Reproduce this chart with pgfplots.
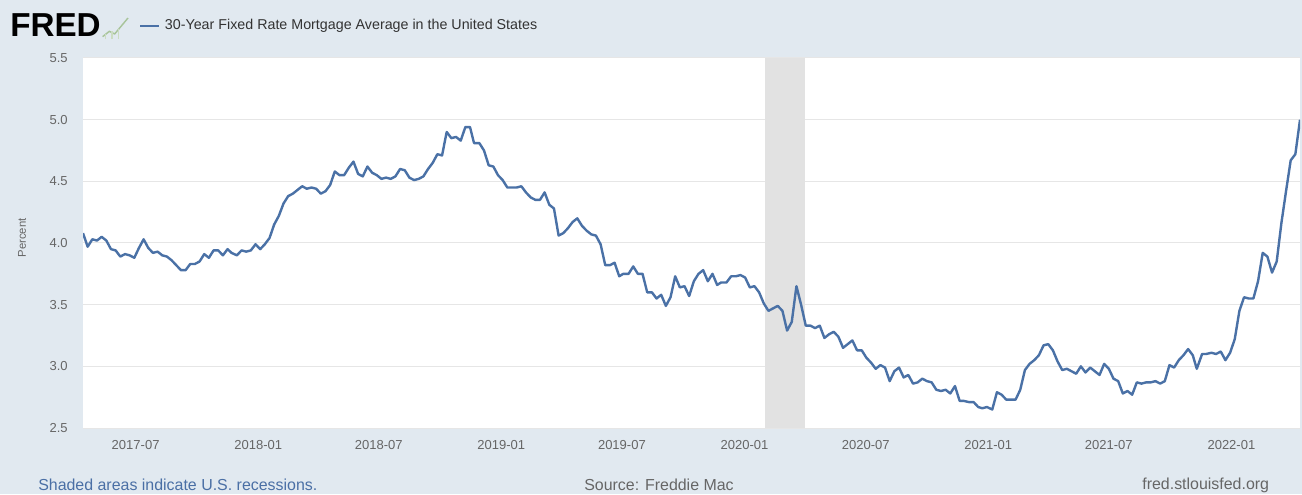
\documentclass[border=0pt]{standalone}
\usepackage{fontspec}
\setmainfont{Liberation Sans}
\usepackage{pgfplots}
\pgfplotsset{compat=1.18}
\usepackage{pgfplotstable}
\usepgfplotslibrary{dateplot}

\definecolor{fredbg}{HTML}{E1E9F0}
\definecolor{fredline}{HTML}{4A71A6}
\definecolor{fredgrid}{HTML}{E6E6E6}
\definecolor{fredrec}{HTML}{E2E2E2}
\definecolor{fredtick}{HTML}{666666}
\definecolor{fredtext}{HTML}{333333}
\definecolor{fredblue}{HTML}{4A6FA5}
\definecolor{fredicon}{HTML}{A8C49A}

% MORTGAGE30US, weekly, percent
\pgfplotstableread{
date rate
2017-04-13 4.08
2017-04-20 3.97
2017-04-27 4.03
2017-05-04 4.02
2017-05-11 4.05
2017-05-18 4.02
2017-05-25 3.95
2017-06-01 3.94
2017-06-08 3.89
2017-06-15 3.91
2017-06-22 3.90
2017-06-29 3.88
2017-07-06 3.96
2017-07-13 4.03
2017-07-20 3.96
2017-07-27 3.92
2017-08-03 3.93
2017-08-10 3.90
2017-08-17 3.89
2017-08-24 3.86
2017-08-31 3.82
2017-09-07 3.78
2017-09-14 3.78
2017-09-21 3.83
2017-09-28 3.83
2017-10-05 3.85
2017-10-12 3.91
2017-10-19 3.88
2017-10-26 3.94
2017-11-02 3.94
2017-11-09 3.90
2017-11-16 3.95
2017-11-22 3.92
2017-11-30 3.90
2017-12-07 3.94
2017-12-14 3.93
2017-12-21 3.94
2017-12-28 3.99
2018-01-04 3.95
2018-01-11 3.99
2018-01-18 4.04
2018-01-25 4.15
2018-02-01 4.22
2018-02-08 4.32
2018-02-15 4.38
2018-02-22 4.40
2018-03-01 4.43
2018-03-08 4.46
2018-03-15 4.44
2018-03-22 4.45
2018-03-29 4.44
2018-04-05 4.40
2018-04-12 4.42
2018-04-19 4.47
2018-04-26 4.58
2018-05-03 4.55
2018-05-10 4.55
2018-05-17 4.61
2018-05-24 4.66
2018-05-31 4.56
2018-06-07 4.54
2018-06-14 4.62
2018-06-21 4.57
2018-06-28 4.55
2018-07-05 4.52
2018-07-12 4.53
2018-07-19 4.52
2018-07-26 4.54
2018-08-02 4.60
2018-08-09 4.59
2018-08-16 4.53
2018-08-23 4.51
2018-08-30 4.52
2018-09-06 4.54
2018-09-13 4.60
2018-09-20 4.65
2018-09-27 4.72
2018-10-04 4.71
2018-10-11 4.90
2018-10-18 4.85
2018-10-25 4.86
2018-11-01 4.83
2018-11-08 4.94
2018-11-15 4.94
2018-11-21 4.81
2018-11-29 4.81
2018-12-06 4.75
2018-12-13 4.63
2018-12-20 4.62
2018-12-27 4.55
2019-01-03 4.51
2019-01-10 4.45
2019-01-17 4.45
2019-01-24 4.45
2019-01-31 4.46
2019-02-07 4.41
2019-02-14 4.37
2019-02-21 4.35
2019-02-28 4.35
2019-03-07 4.41
2019-03-14 4.31
2019-03-21 4.28
2019-03-28 4.06
2019-04-04 4.08
2019-04-11 4.12
2019-04-18 4.17
2019-04-25 4.20
2019-05-02 4.14
2019-05-09 4.10
2019-05-16 4.07
2019-05-23 4.06
2019-05-30 3.99
2019-06-06 3.82
2019-06-13 3.82
2019-06-20 3.84
2019-06-27 3.73
2019-07-03 3.75
2019-07-11 3.75
2019-07-18 3.81
2019-07-25 3.75
2019-08-01 3.75
2019-08-08 3.60
2019-08-15 3.60
2019-08-22 3.55
2019-08-29 3.58
2019-09-05 3.49
2019-09-12 3.56
2019-09-19 3.73
2019-09-26 3.64
2019-10-03 3.65
2019-10-10 3.57
2019-10-17 3.69
2019-10-24 3.75
2019-10-31 3.78
2019-11-07 3.69
2019-11-14 3.75
2019-11-21 3.66
2019-11-27 3.68
2019-12-05 3.68
2019-12-12 3.73
2019-12-19 3.73
2019-12-26 3.74
2020-01-02 3.72
2020-01-09 3.64
2020-01-16 3.65
2020-01-23 3.60
2020-01-30 3.51
2020-02-06 3.45
2020-02-13 3.47
2020-02-20 3.49
2020-02-27 3.45
2020-03-05 3.29
2020-03-12 3.36
2020-03-19 3.65
2020-03-26 3.50
2020-04-02 3.33
2020-04-09 3.33
2020-04-16 3.31
2020-04-23 3.33
2020-04-30 3.23
2020-05-07 3.26
2020-05-14 3.28
2020-05-21 3.24
2020-05-28 3.15
2020-06-04 3.18
2020-06-11 3.21
2020-06-18 3.13
2020-06-25 3.13
2020-07-02 3.07
2020-07-09 3.03
2020-07-16 2.98
2020-07-23 3.01
2020-07-30 2.99
2020-08-06 2.88
2020-08-13 2.96
2020-08-20 2.99
2020-08-27 2.91
2020-09-03 2.93
2020-09-10 2.86
2020-09-17 2.87
2020-09-24 2.90
2020-10-01 2.88
2020-10-08 2.87
2020-10-15 2.81
2020-10-22 2.80
2020-10-29 2.81
2020-11-05 2.78
2020-11-12 2.84
2020-11-19 2.72
2020-11-25 2.72
2020-12-03 2.71
2020-12-10 2.71
2020-12-17 2.67
2020-12-23 2.66
2020-12-30 2.67
2021-01-07 2.65
2021-01-14 2.79
2021-01-21 2.77
2021-01-28 2.73
2021-02-04 2.73
2021-02-11 2.73
2021-02-18 2.81
2021-02-25 2.97
2021-03-04 3.02
2021-03-11 3.05
2021-03-18 3.09
2021-03-25 3.17
2021-04-01 3.18
2021-04-08 3.13
2021-04-15 3.04
2021-04-22 2.97
2021-04-29 2.98
2021-05-06 2.96
2021-05-13 2.94
2021-05-20 3.00
2021-05-27 2.95
2021-06-03 2.99
2021-06-10 2.96
2021-06-17 2.93
2021-06-24 3.02
2021-07-01 2.98
2021-07-08 2.90
2021-07-15 2.88
2021-07-22 2.78
2021-07-29 2.80
2021-08-05 2.77
2021-08-12 2.87
2021-08-19 2.86
2021-08-26 2.87
2021-09-02 2.87
2021-09-09 2.88
2021-09-16 2.86
2021-09-23 2.88
2021-09-30 3.01
2021-10-07 2.99
2021-10-14 3.05
2021-10-21 3.09
2021-10-28 3.14
2021-11-04 3.09
2021-11-10 2.98
2021-11-18 3.10
2021-11-24 3.10
2021-12-02 3.11
2021-12-09 3.10
2021-12-16 3.12
2021-12-23 3.05
2021-12-30 3.11
2022-01-06 3.22
2022-01-13 3.45
2022-01-20 3.56
2022-01-27 3.55
2022-02-03 3.55
2022-02-10 3.69
2022-02-17 3.92
2022-02-24 3.89
2022-03-03 3.76
2022-03-10 3.85
2022-03-17 4.16
2022-03-24 4.42
2022-03-31 4.67
2022-04-07 4.72
2022-04-14 5.00
}\mortgage

\begin{document}
\begin{tikzpicture}[x=1bp,y=1bp]
% page background, 1302x494 px at 0.75bp per px
\path[use as bounding box, fill=fredbg] (0,0) rectangle (976.5,370.5);

% header: logo and legend
\node[anchor=west, inner sep=0, font=\bfseries\fontsize{25}{25}\selectfont] at (7.5,351.5) {FRED};
\draw[fredicon, line width=1.1, line join=round] (77,343) -- (82,347) -- (86,345) -- (91,351) -- (96,357);
\draw[fredicon!60, line width=0.8] (79,341) -- (79,345) (84,341) -- (84,347) (89,341) -- (89,349);
\draw[fredline, line width=1.2] (105,351) -- (119,351);
\node[anchor=west, inner sep=0, text=fredtext, font=\fontsize{10.75}{11}\selectfont] at (123.5,351) {30-Year Fixed Rate Mortgage Average in the United States};

\begin{axis}[
    at={(62.25bp,49.5bp)}, anchor=south west,
    scale only axis,
    width=912.75bp, height=277.5bp,
    date coordinates in=x,
    xmin=2017-04-13, xmax=2022-04-14,
    ymin=2.5, ymax=5.5,
    xtick={2017-07-01,2018-01-01,2018-07-01,2019-01-01,2019-07-01,2020-01-01,2020-07-01,2021-01-01,2021-07-01,2022-01-01},
    xticklabels={2017-07,2018-01,2018-07,2019-01,2019-07,2020-01,2020-07,2021-01,2021-07,2022-01},
    ytick={2.5,3.0,3.5,4.0,4.5,5.0,5.5},
    yticklabels={2.5,3.0,3.5,4.0,4.5,5.0,5.5},
    ymajorgrids,
    grid style={fredgrid, line width=0.75bp},
    axis line style={draw=none},
    major tick length=0pt,
    axis background/.style={fill=white},
    tick label style={text=fredtick, font=\fontsize{9.8}{10}\selectfont},
    xticklabel style={yshift=-6bp},
    yticklabel style={xshift=-8bp},
    clip=true,
  ]
  % recession: 2020-02 to 2020-04
  \addplot[fill=fredrec, draw=none] coordinates {
    (2020-02-01,2.5) (2020-02-01,5.5) (2020-04-01,5.5) (2020-04-01,2.5)
  } -- cycle;
  \addplot[fredline, line width=1.8bp, line join=round, mark=none] table[x=date, y=rate] {\mortgage};
\end{axis}

\node[rotate=90, text=fredtick, font=\fontsize{8.5}{9}\selectfont] at (16.5,192) {Percent};

% footer
\node[anchor=west, inner sep=0, text=fredblue, font=\fontsize{12}{12}\selectfont] at (28.5,6.8) {Shaded areas indicate U.S. recessions.};
\node[anchor=west, inner sep=0, text=fredtick, font=\fontsize{12}{12}\selectfont] at (438,6.8) {Source: Freddie Mac};
\node[anchor=east, inner sep=0, text=fredtick, font=\fontsize{12}{12}\selectfont] at (952,6.8) {fred.stlouisfed.org};
\end{tikzpicture}
\end{document}
